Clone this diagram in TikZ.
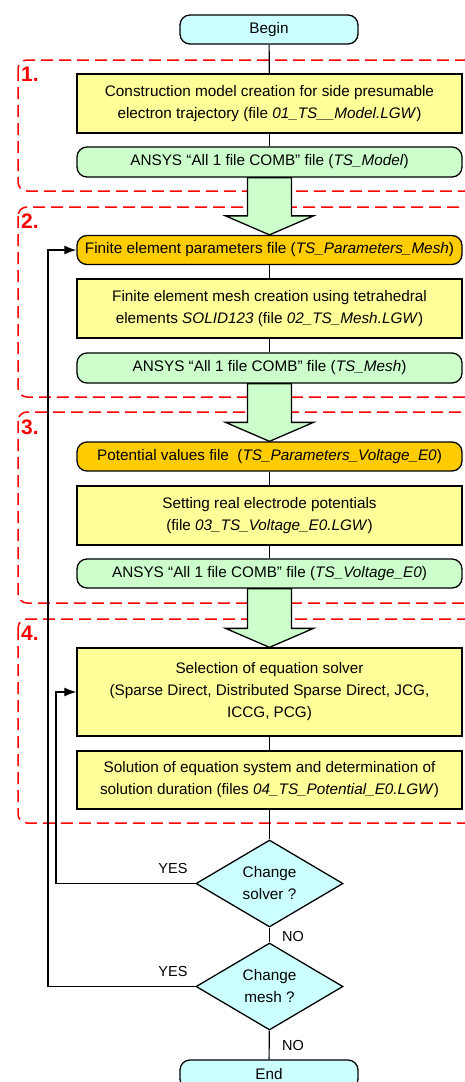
\documentclass[tikz,border=0pt]{standalone}
\usepackage{fontspec}
\setmainfont{Liberation Sans}
\usetikzlibrary{shapes.geometric,arrows.meta,calc}
\definecolor{boxyellow}{HTML}{FFFF99}
\definecolor{boxgreen}{HTML}{CCFFCC}
\definecolor{boxorange}{HTML}{FFCC00}
\definecolor{boxcyan}{HTML}{CCFFFF}
\definecolor{dashred}{HTML}{FF0000}
\tikzset{
  base/.style={draw=black, line width=1.3pt, align=center, inner sep=0pt,
    font=\fontsize{15.3}{22}\selectfont},
  termbox/.style={base, fill=boxcyan, rounded corners=10pt, minimum width=178pt, minimum height=29pt},
  procbox/.style={base, fill=boxyellow, minimum width=385pt},
  filebox/.style={base, fill=boxgreen, rounded corners=10pt, minimum width=385pt, minimum height=30pt},
  parbox/.style={base, fill=boxorange, rounded corners=10pt, minimum width=385pt, minimum height=29pt},
  decbox/.style={base, diamond, fill=boxcyan, aspect=1.69, minimum width=147pt, minimum height=87pt},
  conn/.style={draw=black, line width=1.2pt},
  feedback/.style={conn, -{Latex[length=12pt,width=9pt]}},
  bigarrow/.style={draw=black, line width=1.3pt, fill=boxgreen, line join=miter},
  stagebox/.style={draw=dashred, line width=1.5pt, dash pattern=on 12pt off 6pt, rounded corners=9pt},
  stagelabel/.style={text=dashred, font=\fontsize{21}{21}\selectfont\bfseries, inner sep=0pt, anchor=base west},
  anslabel/.style={font=\fontsize{14.5}{16}\selectfont, inner sep=0pt, anchor=base}
}
\begin{document}
\begin{tikzpicture}[x=1pt,y=-1pt]
\useasboundingbox (0,0) rectangle (465,1082);
\fill[white] (0,0) rectangle (465,1082);

% stage frames
\draw[stagebox] (18,60) rectangle (500,191);
\draw[stagebox] (18,207) rectangle (500,397);
\draw[stagebox] (18,412) rectangle (500,603);
\draw[stagebox] (18,619) rectangle (500,823);
\node[stagelabel] (l1) at (21,81) {1.};
\node[stagelabel] (l2) at (21,228) {2.};
\node[stagelabel] (l3) at (21,434) {3.};
\node[stagelabel] (l4) at (21,640) {4.};

% nodes
\node[termbox] (begin) at (269,29.5) {Begin};
\node[procbox, minimum height=59pt] (A) at (269.5,103.5) {Construction model creation for side presumable\\electron trajectory (file \textit{01\_TS\_\_Model.LGW})};
\node[filebox] (B) at (269.5,162) {ANSYS “All 1 file COMB” file (\textit{TS\_Model})};
\node[parbox] (C) at (269.5,250) {Finite element parameters file (\textit{TS\_Parameters\_Mesh})};
\node[procbox, minimum height=59pt] (D) at (269.5,308.5) {Finite element mesh creation using tetrahedral\\elements \textit{SOLID123} (file \textit{02\_TS\_Mesh.LGW})};
\node[filebox] (E) at (269.5,368) {ANSYS “All 1 file COMB” file (\textit{TS\_Mesh})};
\node[parbox] (F) at (269.5,456.5) {Potential values file \ (\textit{TS\_Parameters\_Voltage\_E0})};
\node[procbox, minimum height=59pt] (G) at (269.5,515.5) {Setting real electrode potentials\\(file \textit{03\_TS\_Voltage\_E0.LGW})};
\node[filebox, minimum height=29pt] (H) at (269.5,573.5) {ANSYS “All 1 file COMB” file (\textit{TS\_Voltage\_E0})};
\node[procbox, minimum height=88pt] (I) at (269.5,692) {Selection of equation solver\\(Sparse Direct, Distributed Sparse Direct, JCG,\\ICCG, PCG)};
\node[procbox, minimum height=58pt] (J) at (269.5,780) {Solution of equation system and determination of\\solution duration (files \textit{04\_TS\_Potential\_E0.LGW})};
\node[decbox] (d1) at (269.5,883.5) {Change\\solver ?};
\node[decbox] (d2) at (269.5,986.5) {Change\\mesh ?};
\node[termbox] (end) at (269,1074.5) {End};

% straight connectors
\draw[conn] (begin) -- (A);
\draw[conn] (A) -- (B);
\draw[conn] (C) -- (D);
\draw[conn] (D) -- (E);
\draw[conn] (F) -- (G);
\draw[conn] (G) -- (H);
\draw[conn] (I) -- (J);
\draw[conn] (J) -- (d1);
\draw[conn] (d1) -- (d2);
\draw[conn] (d2) -- (end);

% big block arrows
\foreach \s/\t in {B/C, E/F, H/I}{
  \draw[bigarrow] ($(\s.south)+(-22,0)$) -- ($(\t.north)+(-22,-19)$) -- ($(\t.north)+(-44,-19)$)
    -- (\t.north) -- ($(\t.north)+(44,-19)$) -- ($(\t.north)+(22,-19)$) -- ($(\s.south)+(22,0)$) -- cycle;
}

% feedback loops
\coordinate (f1) at (56,883.5);
\coordinate (f2) at (48,986.5);
\draw[feedback] (d1.west) -- (f1) |- (I.west);
\draw[feedback] (d2.west) -- (f2) |- (C.west);

% answer labels
\node[anslabel] (y1) at (173,873) {YES};
\node[anslabel] (y2) at (173,976) {YES};
\node[anslabel, anchor=base west] (n1) at (282,941) {NO};
\node[anslabel, anchor=base west] (n2) at (282,1050) {NO};
\end{tikzpicture}
\end{document}
